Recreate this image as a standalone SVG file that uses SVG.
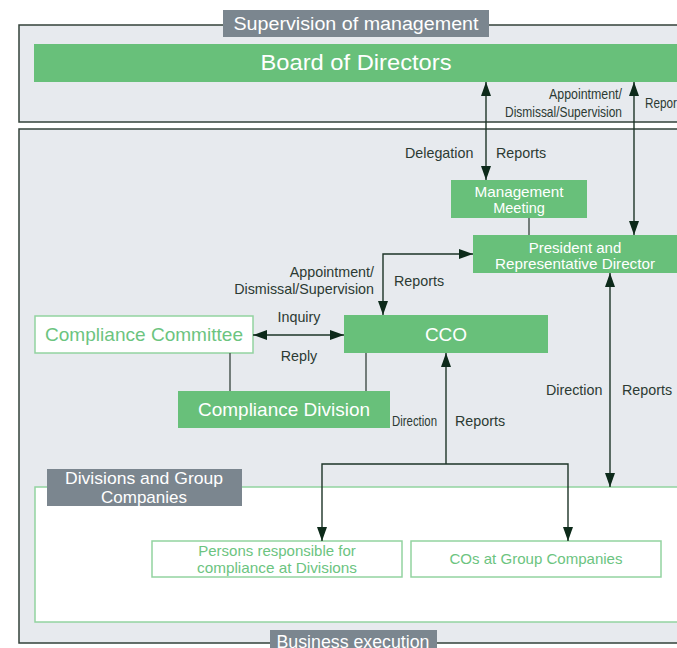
<svg xmlns="http://www.w3.org/2000/svg" width="677" height="648" viewBox="0 0 677 648">
  <style>
    text{font-family:"Liberation Sans",Arial,sans-serif}
    .frame{fill:#e7eaee;stroke:#33413a;stroke-width:1.5}
    .tag{fill:#7b868f}
    .tagtxt{fill:#ffffff;text-anchor:middle}
    .solid{fill:#68c07a}
    .wtxt{fill:#ffffff;text-anchor:middle}
    .outline{fill:#ffffff;stroke:#93d3a0;stroke-width:1.5}
    .gtxt{fill:#6cc47f;text-anchor:middle}
    .lbl{fill:#2c3a33;font-size:14.3px}
    .conn{fill:none;stroke:#1d3427;stroke-width:1.4}
    .link{fill:none;stroke:#4d5853;stroke-width:1.5}
  </style>
  <defs>
    <marker id="arrow" viewBox="0 0 14 10" markerWidth="14" markerHeight="10" refX="14" refY="5" markerUnits="userSpaceOnUse" orient="auto-start-reverse">
      <path d="M0,0 L14,5 L0,10 z" fill="#0d2a1a"/>
    </marker>
  </defs>

  <!-- Supervision frame -->
  <g id="supervision">
    <rect class="frame" x="19" y="25" width="700" height="97"/>
    <rect class="tag" x="223" y="10" width="266" height="27"/>
    <text class="tagtxt" x="356" y="30" font-size="18" textLength="245" lengthAdjust="spacingAndGlyphs">Supervision of management</text>
  </g>

  <!-- Business execution frame -->
  <g id="execution">
    <rect class="frame" x="19" y="129" width="700" height="514"/>
  </g>

  <g id="board">
    <rect class="solid" x="34" y="44" width="680" height="38"/>
    <text class="wtxt" x="356" y="70" font-size="21.5" textLength="191" lengthAdjust="spacingAndGlyphs">Board of Directors</text>
  </g>

  <g id="management-meeting">
    <rect class="solid" x="451" y="180" width="136" height="38"/>
    <text class="wtxt" x="519" y="197" font-size="14.5" textLength="89" lengthAdjust="spacingAndGlyphs">Management</text>
    <text class="wtxt" x="519" y="213" font-size="14.5">Meeting</text>
  </g>

  <g id="president">
    <rect class="solid" x="473" y="235" width="240" height="38"/>
    <text class="wtxt" x="575" y="253" font-size="15">President and</text>
    <text class="wtxt" x="575" y="269" font-size="15" textLength="160" lengthAdjust="spacingAndGlyphs">Representative Director</text>
  </g>

  <g id="cco">
    <rect class="solid" x="344" y="315" width="204" height="38"/>
    <text class="wtxt" x="446" y="341" font-size="19">CCO</text>
  </g>

  <g id="compliance-committee">
    <rect class="outline" x="35" y="316" width="218" height="37"/>
    <text class="gtxt" x="144" y="341" font-size="19" textLength="198" lengthAdjust="spacingAndGlyphs">Compliance Committee</text>
  </g>

  <g id="compliance-division">
    <rect class="solid" x="178" y="391" width="212" height="37"/>
    <text class="wtxt" x="284" y="416" font-size="19" textLength="172" lengthAdjust="spacingAndGlyphs">Compliance Division</text>
  </g>

  <g id="divisions-group">
    <rect class="outline" x="35" y="487" width="680" height="135"/>
  </g>

  <g id="persons-responsible">
    <rect class="outline" x="152" y="541" width="250" height="36"/>
    <text class="gtxt" x="277" y="556" font-size="15">Persons responsible for</text>
    <text class="gtxt" x="277" y="573" font-size="15" textLength="160" lengthAdjust="spacingAndGlyphs">compliance at Divisions</text>
  </g>

  <g id="cos-group">
    <rect class="outline" x="411" y="541" width="250" height="36"/>
    <text class="gtxt" x="536" y="564" font-size="15" textLength="173" lengthAdjust="spacingAndGlyphs">COs at Group Companies</text>
  </g>

  <g id="divisions-tag">
    <rect class="tag" x="47" y="469" width="195" height="37"/>
    <text class="tagtxt" x="144" y="484" font-size="17" textLength="158" lengthAdjust="spacingAndGlyphs">Divisions and Group</text>
    <text class="tagtxt" x="144" y="503" font-size="17">Companies</text>
  </g>

  <g id="business-tag">
    <rect class="tag" x="270" y="630" width="167" height="25"/>
    <text class="tagtxt" x="353" y="648" font-size="17.5" textLength="153" lengthAdjust="spacingAndGlyphs">Business execution</text>
  </g>

  <!-- Connectors -->
  <g id="connectors">
    <line class="conn" x1="486" y1="82" x2="486" y2="180" marker-start="url(#arrow)" marker-end="url(#arrow)"/>
    <line class="conn" x1="634" y1="82" x2="634" y2="235" marker-start="url(#arrow)" marker-end="url(#arrow)"/>
    <line class="link" x1="529" y1="218" x2="529" y2="235"/>
    <path class="conn" d="M383,315 V254 H473" marker-start="url(#arrow)" marker-end="url(#arrow)"/>
    <line class="conn" x1="253" y1="335" x2="344" y2="335" marker-start="url(#arrow)" marker-end="url(#arrow)"/>
    <line class="link" x1="230" y1="353" x2="230" y2="391"/>
    <line class="link" x1="366" y1="353" x2="366" y2="391"/>
    <line class="conn" x1="446" y1="464" x2="446" y2="353" marker-end="url(#arrow)"/>
    <path class="conn" d="M322,541 V464 H568 V541" marker-start="url(#arrow)" marker-end="url(#arrow)"/>
    <line class="conn" x1="610" y1="273" x2="610" y2="487" marker-start="url(#arrow)" marker-end="url(#arrow)"/>
  </g>

  <!-- Connector labels -->
  <g id="labels">
    <text class="lbl" x="622" y="99" text-anchor="end" font-size="13.5" textLength="73" lengthAdjust="spacingAndGlyphs">Appointment/</text>
    <text class="lbl" x="622" y="117" text-anchor="end" font-size="13.5" textLength="117" lengthAdjust="spacingAndGlyphs">Dismissal/Supervision</text>
    <text class="lbl" x="645" y="108" font-size="13.5" textLength="32" lengthAdjust="spacingAndGlyphs">Repor</text>
    <text class="lbl" x="405" y="158">Delegation</text>
    <text class="lbl" x="496" y="158">Reports</text>
    <text class="lbl" x="374" y="277" text-anchor="end">Appointment/</text>
    <text class="lbl" x="374" y="294" text-anchor="end">Dismissal/Supervision</text>
    <text class="lbl" x="394" y="286">Reports</text>
    <text class="lbl" x="299" y="322" text-anchor="middle">Inquiry</text>
    <text class="lbl" x="299" y="361" text-anchor="middle">Reply</text>
    <text class="lbl" x="392" y="426" font-size="13.5" textLength="45" lengthAdjust="spacingAndGlyphs">Direction</text>
    <text class="lbl" x="455" y="426">Reports</text>
    <text class="lbl" x="546" y="395">Direction</text>
    <text class="lbl" x="622" y="395">Reports</text>
  </g>
</svg>
